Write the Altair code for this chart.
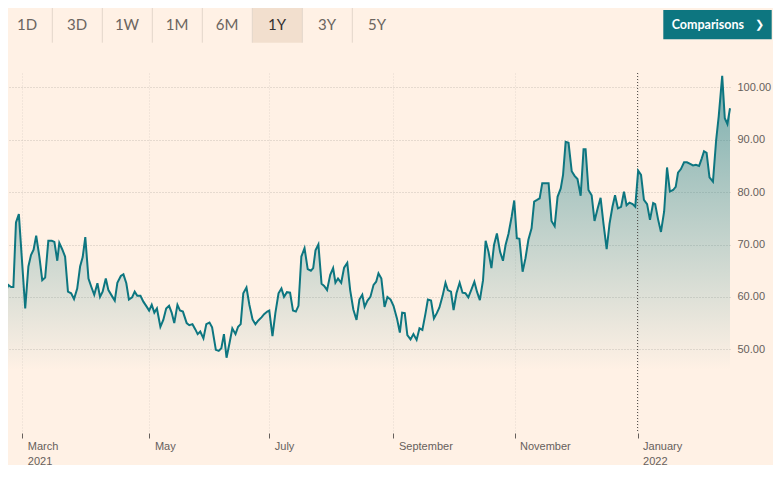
import altair as alt
import pandas as pd

# ---- data (x = trading-day position, y = price) ----
pos = [0.2, 1.1, 2.1, 2.9, 3.8, 4.8, 7.0, 8.1, 9.0, 9.9, 10.8, 11.9, 12.9, 13.9, 15.0, 16.2, 17.1, 18.1, 18.8, 19.8,
       20.8, 21.8, 22.9, 23.9, 25.0, 26.0, 26.9, 27.8, 28.9, 29.9, 30.9, 32.0, 32.9, 33.8, 34.9, 35.8, 37.0, 38.0, 38.9, 40.1,
       41.0, 42.0, 42.9, 44.0, 44.9, 45.8, 46.9, 47.9, 49.1, 49.9, 50.8, 51.7, 52.6, 53.8, 54.8, 55.8, 56.8, 57.7, 58.6, 59.7,
       60.6, 61.6,
       62.9, 63.8, 64.9, 65.9, 66.7, 67.6, 68.7, 69.7, 70.8, 71.7, 73.0, 74.0, 74.9, 75.8, 76.7, 77.7, 78.7, 79.8, 80.7, 81.6,
       82.5, 83.6, 84.6, 85.7, 86.7, 87.7, 88.8, 89.7, 90.8, 91.5, 92.6, 93.6, 94.7, 95.7, 96.6, 97.6, 98.7, 99.7, 100.7, 101.6,
       102.6, 103.7, 104.8, 105.9, 106.7, 107.5, 108.5, 109.6, 110.5, 111.5, 112.6, 113.6, 114.4, 115.3, 116.4, 117.4, 118.5,
       119.5, 120.6, 121.7, 122.7, 123.7,
       124.5, 125.5, 126.5, 127.6, 128.5, 129.3, 130.3, 131.4, 132.4, 133.5, 134.5, 135.7, 136.7, 137.5, 138.4, 139.3, 140.4,
       141.4, 142.5, 143.5, 144.5, 145.6, 146.4, 147.5, 148.5, 149.5, 150.4, 151.5, 152.5, 153.3, 154.4, 155.3, 156.3, 157.4,
       158.4, 159.4, 160.4, 161.4, 162.5, 163.4, 164.4, 165.5, 166.4, 167.4, 168.4, 169.3, 170.3, 171.4, 172.4, 173.3, 174.3,
       175.4, 176.3, 177.2, 178.1, 179.2, 180.2, 181.2, 182.3, 183.2, 184.2, 185.1, 186.0,
       187.0, 188.2, 189.2, 190.3, 191.3, 192.4, 193.2, 194.1, 195.1, 196.2, 197.2, 198.2, 199.3, 200.3, 201.0, 202.0, 203.1,
       204.1, 205.2, 206.2, 207.2, 208.3, 209.3, 210.3, 211.2, 212.2, 213.3, 214.3, 215.2, 216.2, 217.3, 218.2, 219.2, 220.2,
       221.2, 222.3, 223.3, 224.4, 225.1, 226.1, 227.1, 228.2, 229.2, 230.2, 231.3, 232.2, 233.0, 234.0, 235.1, 236.1, 237.2,
       238.2, 239.2, 240.3, 241.2, 242.0, 242.9, 243.9, 245.1, 246.2, 247.1, 248.3, 249.2, 250.1, 251.0]

price = [60.7, 62.3, 61.9, 61.9, 74.2, 75.8, 57.8, 65.8, 68.0, 69.0, 71.7, 67.7, 63.2, 63.7, 70.7, 70.7, 70.5, 66.9, 70.3, 69.1,
         67.7, 61.0, 60.7, 59.6, 61.6, 65.8, 67.6, 71.4, 63.5, 61.9, 60.4, 62.6, 60.0, 61.0, 63.5, 61.3, 60.2, 59.3, 62.7, 64.0,
         64.3, 62.6, 59.5, 59.9, 61.0, 60.2, 60.2, 59.1, 58.1, 57.4, 58.5, 57.0, 57.8, 54.3, 55.6, 57.8, 58.3, 57.0, 55.0, 58.5,
         57.4, 57.2,
         55.0, 54.6, 54.8, 53.8, 52.9, 53.4, 52.1, 54.8, 55.1, 54.2, 49.9, 49.7, 50.2, 52.9, 48.4, 51.1, 54.0, 52.9, 54.3, 54.8,
         60.7, 61.8, 58.5, 55.7, 54.8, 55.5, 56.1, 56.7, 57.2, 57.4, 52.5, 56.9, 60.7, 61.6, 60.0, 60.9, 60.8, 57.4, 57.2, 58.3,
         67.7, 69.3, 65.3, 65.0, 65.5, 68.9, 70.0, 62.5, 62.1, 61.3, 64.2, 65.5, 62.7, 63.5, 62.7, 65.6, 66.5, 61.3, 57.6, 55.6,
         59.5, 60.4,
         58.1, 59.3, 60.0, 62.3, 62.9, 64.5, 63.5, 58.1, 60.0, 59.5, 58.3, 55.9, 53.2, 57.0, 56.9, 52.7, 51.9, 52.9, 51.8, 54.0,
         53.7, 56.9, 59.5, 59.3, 55.9, 56.9, 58.0, 60.2, 62.7, 61.3, 61.0, 57.5, 60.7, 62.7, 60.8, 60.7, 59.9, 61.3, 62.9, 61.0,
         59.4, 63.2, 70.7, 68.6, 65.5, 69.9, 72.1, 68.6, 66.9, 69.9, 72.0, 75.3, 78.4, 71.2, 71.1, 64.8, 67.4, 70.9, 73.1, 78.2,
         78.5, 78.8, 81.7,
         81.7, 81.7, 74.5, 73.5, 79.1, 80.7, 83.3, 89.6, 89.4, 84.0, 83.1, 82.5, 79.3, 88.2, 88.2, 80.4, 79.4, 74.5, 76.9, 78.9,
         74.0, 69.1, 74.0, 77.2, 79.4, 76.9, 77.2, 80.1, 77.5, 78.0, 77.7, 77.2, 84.1, 83.3, 78.5, 77.7, 74.7, 77.9, 77.7, 74.8,
         72.4, 76.3, 84.7, 80.1, 80.4, 81.0, 83.7, 84.4, 85.7, 85.7, 85.4, 85.1, 85.2, 85.0, 86.4, 87.8, 87.5, 82.8, 82.0, 89.9,
         94.5, 102.2, 94.1, 93.0, 96.0]

tick_pos = [6, 50, 91.5, 134.5, 176.4, 219]
tick_month = ["March", "May", "July", "September", "November", "January"]
tick_year = ["2021", "", "", "", "", "2022"]
y_ticks = [50, 60, 70, 80, 90, 100]
year_break = [219]
tabs = ["1D", "3D", "1W", "1M", "6M", "1Y", "3Y", "5Y"]
active_tab = "1Y"
button_label = "Comparisons"

df = pd.DataFrame({"pos": pos, "price": price})

BG = "#fff1e5"
TEAL = "#0d7680"
GREY = "#66605c"
AXFONT = "Liberation Sans"

parts = []
for p, m, yv in zip(tick_pos, tick_month, tick_year):
    lab = f"['{m}', '{yv}']" if yv else f"'{m}'"
    parts.append(f"datum.value == {p} ? {lab} : ")
label_expr = "".join(parts) + "''"

x_enc = alt.X(
    "pos:Q",
    scale=alt.Scale(domain=[1.04, 251.0], nice=False, zero=False),
    axis=alt.Axis(values=tick_pos, labelExpr=label_expr, title=None, grid=True,
                  gridColor="#e4d9ce", gridDash=[1, 2], domain=False, ticks=True,
                  tickSize=5, tickColor=GREY, labelAlign="left", labelBaseline="top",
                  labelOffset=5, labelPadding=2, labelLineHeight=15, labelFont=AXFONT,
                  labelFontSize=11, labelColor=GREY, labelFlush=False, labelOverlap=False),
)
y_enc = alt.Y(
    "price:Q",
    scale=alt.Scale(domain=[34.03, 102.73], nice=False, zero=False),
    axis=alt.Axis(orient="right", values=y_ticks, format=".2f", title=None, grid=True,
                  gridColor="#cdc2b8", gridDash=[1, 2], domain=False, ticks=False,
                  labelPadding=7, labelFont=AXFONT, labelFontSize=11, labelColor=GREY),
)

base = alt.Chart(df)
grad = alt.Gradient(
    gradient="linear",
    stops=[alt.GradientStop(color="rgba(13,118,128,0.55)", offset=0),
           alt.GradientStop(color="rgba(13,118,128,0)", offset=1)],
    x1=1, x2=1, y1=0, y2=1,
)
area = base.mark_area(color=grad).encode(x=x_enc, y=y_enc, y2=alt.datum(46))
line = base.mark_line(color=TEAL, strokeWidth=2).encode(x=x_enc, y=y_enc)
yr = alt.Chart(pd.DataFrame({"pos": year_break})).mark_rule(
    color="#4d4845", strokeDash=[1, 2], strokeWidth=1).encode(x="pos:Q")

one = pd.DataFrame({"a": [0]})
ui = []
ui.append(alt.Chart(one).mark_rect(color="#f2dfce").encode(
    x=alt.value(244.3), x2=alt.value(294.3), y=alt.value(-65), y2=alt.value(-30.3)))
for i in range(1, len(tabs)):
    ui.append(alt.Chart(one).mark_rule(color="#e3d6ca", strokeWidth=1).encode(
        x=alt.value(-5.7 + 50 * i), y=alt.value(-65), y2=alt.value(-30.3)))
for i, t in enumerate(tabs):
    ui.append(alt.Chart(one).mark_text(
        text=t, font="Lato", fontSize=15, align="center", baseline="middle",
        color="#33302e" if t == active_tab else "#6b6560").encode(
        x=alt.value(19 + 50 * i), y=alt.value(-48)))
ui.append(alt.Chart(one).mark_rect(color=TEAL).encode(
    x=alt.value(655.3), x2=alt.value(763.7), y=alt.value(-63), y2=alt.value(-33.7)))
ui.append(alt.Chart(one).mark_text(
    text=button_label, font="Lato", fontWeight="bold", fontSize=12.5, color="white",
    align="left", baseline="middle").encode(x=alt.value(663.7), y=alt.value(-48.5)))
ui.append(alt.Chart(one).mark_text(
    text="\u276f", font="DejaVu Sans", fontWeight="bold", fontSize=11, color="white",
    align="center", baseline="middle").encode(x=alt.value(751.5), y=alt.value(-48.5)))

chart = alt.layer(area, yr, line, *ui).properties(
    width=722, height=360, background=BG,
    padding={"left": 0, "top": 65, "right": 43, "bottom": 32},
    autosize=alt.AutoSizeParams(type="none"),
).configure_view(stroke=None)

chart.save("out.html", embed_options={"renderer": "svg", "actions": False})
